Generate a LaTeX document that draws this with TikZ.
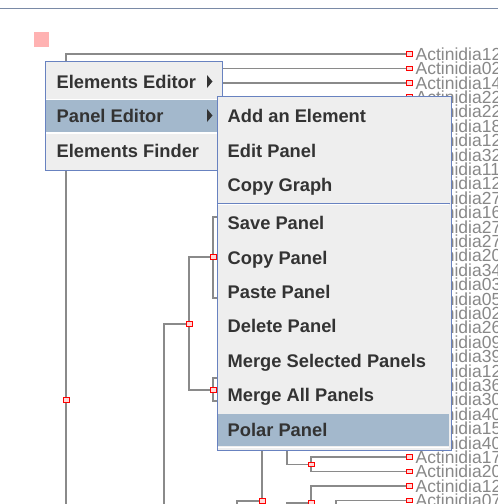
\documentclass[tikz,border=0pt]{standalone}
\usepackage{fontspec}
\setmainfont{Liberation Sans}
\usetikzlibrary{backgrounds}

\definecolor{branchgray}{RGB}{138,138,138}
\definecolor{labelgray}{RGB}{136,136,136}
\definecolor{menuface}{RGB}{238,238,238}
\definecolor{menuedge}{RGB}{104,130,192}
\definecolor{menusel}{RGB}{163,184,204}
\definecolor{menuink}{RGB}{51,51,51}
\definecolor{rulecol}{RGB}{122,138,166}
\definecolor{rootpink}{RGB}{255,178,178}

\tikzset{
  branch/.style={draw=branchgray, line width=1.5pt},
  joint/.style={rectangle, draw=red, fill=red!15, line width=1pt,
    minimum width=6pt, minimum height=4.5pt, inner sep=0pt},
  taxon/.style={anchor=west, inner sep=0pt, text=labelgray,
    font=\fontsize{17.5}{20}\selectfont, text height=12.6pt, text depth=0pt},
  menubox/.style={draw=menuedge, fill=menuface, line width=1pt,
    anchor=north west, inner sep=0pt},
  entry/.style={anchor=west, inner sep=0pt, text=menuink,
    font=\fontsize{18.3}{21}\selectfont\bfseries, text height=13pt, text depth=0pt},
}

\begin{document}
\begin{tikzpicture}[x=1pt,y=-1pt]
  \useasboundingbox (0,0) rectangle (498,504);
  \draw[rulecol, line width=1pt] (0,8) -- (498,8);
  \fill[rootpink] (34,32) rectangle (49,47);

  % leaves
  \foreach \acc [count=\i] in {12,02,14,22,22,18,12,32,11,12,27,16,27,27,20,34,
      03,05,02,26,09,39,12,36,30,40,15,40,17,20,12,07}{
    \node[taxon] (t\i) at (415.5,{54+14.4*(\i-1)}) {Actinidia\acc};
    \node[joint] (m\i) at (409.5,{54+14.4*(\i-1)}) {};
  }

  % inner nodes
  \node[joint] (n0) at (66,400) {};
  \node[joint] (n1) at (213,257) {};
  \node[joint] (n2) at (189,324) {};
  \node[joint] (n3) at (213,390) {};
  \node[joint] (n4) at (262,501) {};
  \node[joint] (n5) at (311,464.4) {};
  \node[joint] (n6) at (311,503) {};
  \coordinate (h1) at (200,75.6);

  \begin{scope}[on background layer]
    \fill[white] (0,0) rectangle (498,504);
    \draw[branch] (m1) -| (n0) -- (66,520);
    \draw[branch] (m2) -| (h1) |- (m3);
    \draw[branch] (225,217) -| (n1) |- (225,298);
    \draw[branch] (n1) -| (n2) |- (n3);
    \draw[branch] (n2) -| (164,520);
    \draw[branch] (225,378) -| (n3) |- (225,401);
    \draw[branch] (262,440) -- (n4) -- (262,520);
    \draw[branch] (n4) -| (237,520);
    \draw[branch] (m29) -| (n5) |- (m30);
    \draw[branch] (n5) -| (287,440);
    \draw[branch] (m31) -| (n6) -- (311,520);
    \draw[branch] (n6) -| (287,520);
    \draw[branch] (m32) -| (336,520);
  \end{scope}

  % popup menu
  \node[menubox, minimum width=177pt, minimum height=109pt] (menuA) at (45,61) {};
  \fill[menusel] (46,99.5) rectangle (221,132);
  \draw[white, line width=0.8pt] (46,99) -- (221,99);
  \draw[white, line width=1.2pt] (46,133) -- (221,133);
  \node[entry] (ee) at (56.5,81.7) {Elements Editor};
  \node[entry] (pe) at (56.5,115.7) {Panel Editor};
  \node[entry] (ef) at (56.5,151) {Elements Finder};
  \fill[menuink] (207,75) -- (212.5,81.5) -- (207,88) -- cycle;
  \fill[menuink] (207,109) -- (212.5,115.5) -- (207,122) -- cycle;

  % submenu
  \node[menubox, minimum width=234pt, minimum height=354pt] (menuB) at (216.5,95.5) {};
  \fill[menusel] (217.5,413.5) rectangle (449,446);
  \draw[white, line width=1.2pt] (217.5,447.3) -- (449,447.3);
  \draw[menuedge, line width=1pt] (217,203.3) -- (449.5,203.3);
  \draw[white, line width=0.8pt] (217.5,204.6) -- (449,204.6);
  \foreach \txt/\yy [count=\k] in {Add an Element/116, Edit Panel/150.7,
      Copy Graph/185, Save Panel/223.3, Copy Panel/257.7, Paste Panel/292,
      Delete Panel/326.4, Merge Selected Panels/360.8, Merge All Panels/395.2,
      Polar Panel/429.7}
    \node[entry] (s\k) at (227.5,\yy) {\txt};
\end{tikzpicture}
\end{document}
